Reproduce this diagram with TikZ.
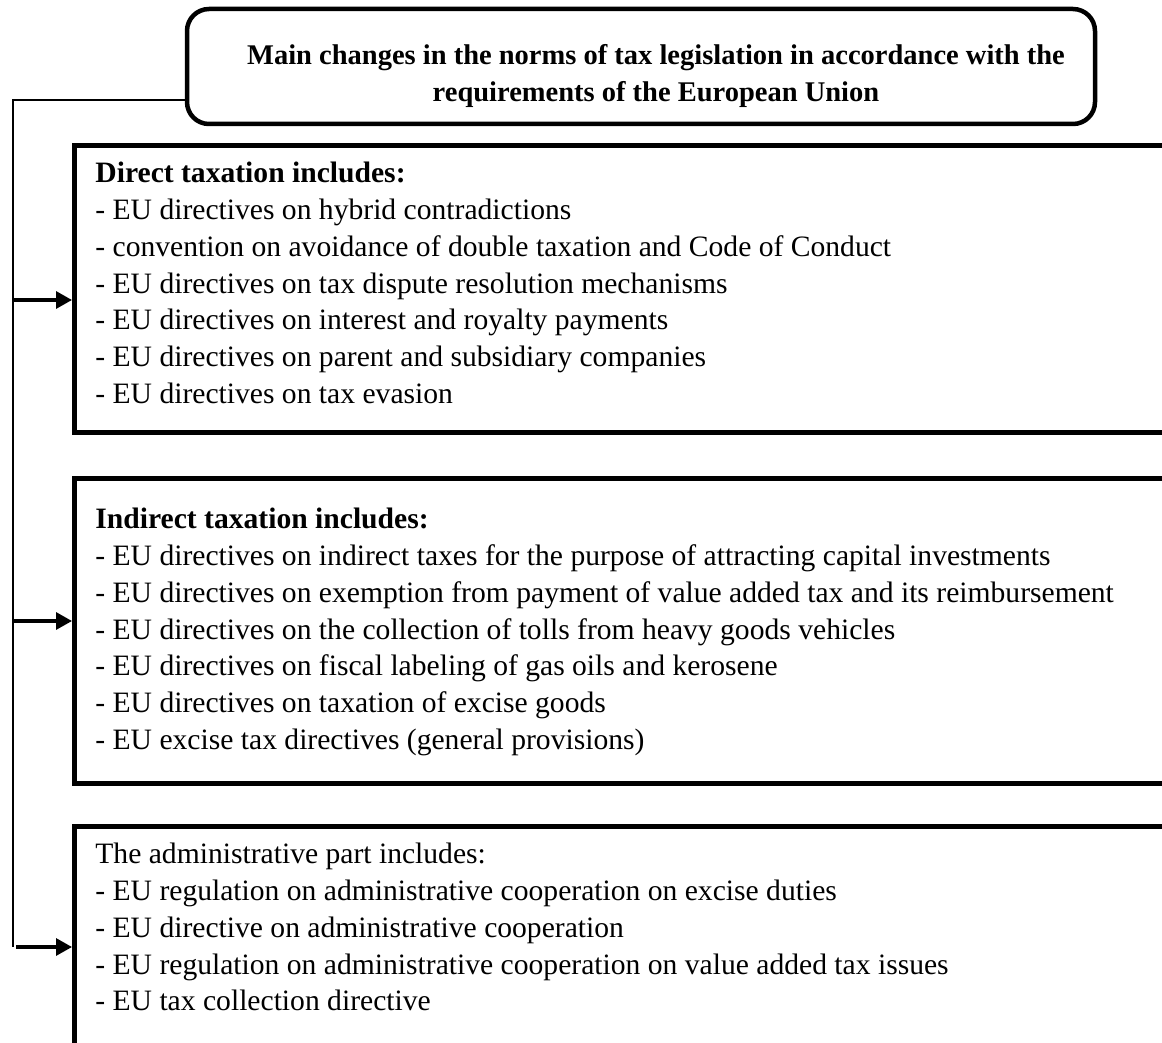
\documentclass[tikz,border=0pt]{standalone}
\usepackage{fontspec}
\setmainfont{Liberation Serif}
\usetikzlibrary{arrows.meta}

\begin{document}
\begin{tikzpicture}[x=0.5pt,y=-0.5pt,
    titlebox/.style={draw,line width=2.25pt,rounded corners=11pt,minimum width=454pt,minimum height=57.5pt},
    titletext/.style={align=center,font=\fontsize{14.25}{18.4}\selectfont\bfseries},
    taxbox/.style={draw,line width=2.5pt,anchor=north west,minimum width=564pt},
    listtext/.style={anchor=north west,inner sep=0pt,align=left,font=\fontsize{14.8}{18.35}\selectfont},
    feed/.style={line width=1.6pt,-{Triangle[length=8pt,width=8.5pt]}}]
    \useasboundingbox (0,0) rectangle (1162,1043);
    \clip (0,0) rectangle (1162,1043);
    % heading
    \node[titlebox] (title) at (641,66.5) {};
    \node[titletext] (titletxt) at (656,76) {Main changes in the norms of tax legislation in accordance with the\\requirements of the European Union};
    % the three groups
    \node[taxbox,minimum height=143.5pt] (direct) at (72,143) {};
    \node[taxbox,minimum height=152.5pt] (indirect) at (72,476) {};
    \node[taxbox,minimum height=112pt] (admin) at (72,824) {};
    \node[listtext] (directtxt) at (95,162) {\textbf{Direct taxation includes:}\\
        - EU directives on hybrid contradictions\\
        - convention on avoidance of double taxation and Code of Conduct\\
        - EU directives on tax dispute resolution mechanisms\\
        - EU directives on interest and royalty payments\\
        - EU directives on parent and subsidiary companies\\
        - EU directives on tax evasion};
    \node[listtext] (indirecttxt) at (95,508) {\textbf{Indirect taxation includes:}\\
        - EU directives on indirect taxes for the purpose of attracting capital investments\\
        - EU directives on exemption from payment of value added tax and its reimbursement\\
        - EU directives on the collection of tolls from heavy goods vehicles\\
        - EU directives on fiscal labeling of gas oils and kerosene\\
        - EU directives on taxation of excise goods\\
        - EU excise tax directives (general provisions)};
    \node[listtext] (admintxt) at (95,843) {The administrative part includes:\\
        - EU regulation on administrative cooperation on excise duties\\
        - EU directive on administrative cooperation\\
        - EU regulation on administrative cooperation on value added tax issues\\
        - EU tax collection directive};
    % connectors
    \coordinate (top) at (13,100);
    \coordinate (j1) at (13,300);
    \coordinate (j2) at (13,621);
    \coordinate (j3) at (13,947);
    \draw[line width=1pt] (title.west |- top) -- (top) -- (j3);
    \draw[feed] (j1) -- (direct.west |- j1);
    \draw[feed] (j2) -- (indirect.west |- j2);
    \draw[feed] ([xshift=1.5pt]j3) -- (admin.west |- j3);
\end{tikzpicture}
\end{document}
